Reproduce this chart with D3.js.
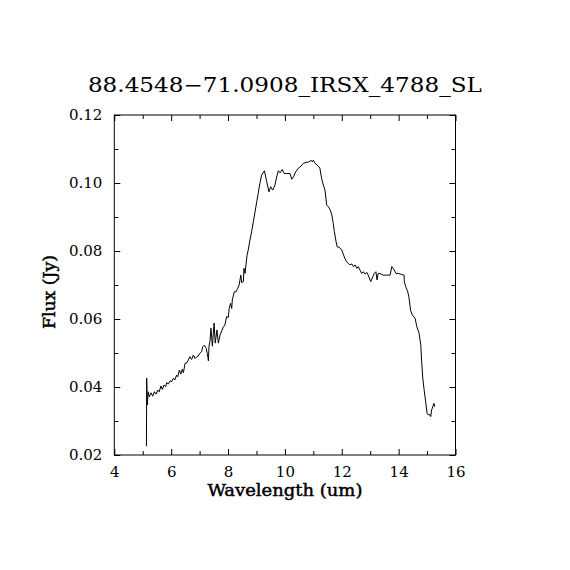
<!DOCTYPE html>
<html>
<head>
<meta charset="utf-8">
<script src="https://cdn.jsdelivr.net/npm/d3@7"></script>
<style>
  body { margin: 0; background: #fff; }
  text { fill: #000; font-family: "DejaVu Serif", "Liberation Serif", serif; }
  .tick-label { font-size: 15px; }
  .label { font-size: 16px; stroke: #000; stroke-width: 0.45px; }
  .title { font-size: 20px; }
</style>
</head>
<body>
<div class="chart"></div>
<script>
const chartTitle = "88.4548\u221271.0908_IRSX_4788_SL";
const xLabel = "Wavelength (um)";
const yLabel = "Flux (Jy)";

const xTicks = [4, 6, 8, 10, 12, 14, 16];
const yTicks = [0.02, 0.04, 0.06, 0.08, 0.10, 0.12];

// spectrum
const wavelength = [
  5.13, 5.14, 5.16, 5.19, 5.23, 5.29, 5.35, 5.41, 5.47, 5.53, 5.58, 5.64, 5.69,
  5.75, 5.81, 5.84, 5.90, 5.96, 6.02, 6.08, 6.13, 6.19, 6.23, 6.29, 6.34, 6.39,
  6.43, 6.49, 6.55, 6.60, 6.66, 6.72, 6.78, 6.84, 6.90, 6.95, 7.01, 7.07, 7.11,
  7.17, 7.23, 7.27, 7.31, 7.33, 7.37, 7.40, 7.45, 7.51, 7.55, 7.61, 7.66, 7.72,
  7.78, 7.83, 7.89, 7.95, 8.01, 8.04, 8.09, 8.13, 8.15, 8.22, 8.28, 8.34, 8.39,
  8.45, 8.48, 8.54, 8.56, 8.60, 8.63, 8.67, 8.71, 8.77, 8.83, 8.89, 8.95, 9.01,
  9.06, 9.12, 9.18, 9.28, 9.36, 9.44, 9.50, 9.57, 9.65, 9.71, 9.77, 9.83, 9.91,
  9.97, 10.06, 10.18, 10.24, 10.30, 10.38, 10.47, 10.57, 10.65, 10.77, 10.85,
  10.92, 10.96, 11.00, 11.06, 11.17, 11.23, 11.29, 11.35, 11.41, 11.47, 11.53,
  11.59, 11.65, 11.70, 11.74, 11.80, 11.84, 11.91, 12.00, 12.05, 12.11, 12.17,
  12.23, 12.29, 12.35, 12.41, 12.47, 12.53, 12.58, 12.64, 12.70, 12.76, 12.82,
  12.88, 12.93, 13.02, 13.09, 13.14, 13.20, 13.24, 13.28, 13.34, 13.46, 13.58,
  13.70, 13.76, 13.81, 13.91, 13.99, 14.11, 14.19, 14.20, 14.25, 14.32, 14.36,
  14.42, 14.48, 14.58, 14.64, 14.72, 14.78, 14.81, 14.85, 14.89, 14.95, 15.00,
  15.04, 15.08, 15.13, 15.16, 15.20, 15.24, 15.27
];
const flux = [
  0.0226, 0.0426, 0.0347, 0.0386, 0.0371, 0.0383, 0.0373, 0.0386, 0.0379, 0.0391, 0.0386, 0.0403, 0.0393,
  0.0406, 0.0401, 0.0413, 0.0409, 0.0418, 0.0416, 0.0426, 0.0421, 0.0435, 0.0430, 0.0450, 0.0438, 0.0452,
  0.0442, 0.0470, 0.0471, 0.0479, 0.0489, 0.0481, 0.0494, 0.0484, 0.0489, 0.0491, 0.0499, 0.0504, 0.0518,
  0.0523, 0.0514, 0.0499, 0.0477, 0.0518, 0.0538, 0.0573, 0.0520, 0.0588, 0.0529, 0.0568, 0.0529, 0.0553,
  0.0565, 0.0576, 0.0582, 0.0607, 0.0605, 0.0631, 0.0646, 0.0631, 0.0656, 0.0680, 0.0680, 0.0690, 0.0700,
  0.0729, 0.0707, 0.0710, 0.0749, 0.0734, 0.0759, 0.0788, 0.0803, 0.0832, 0.0857, 0.0886, 0.0915, 0.0945,
  0.0969, 0.0999, 0.1023, 0.1036, 0.1004, 0.0974, 0.0989, 0.0979, 0.0994, 0.1018, 0.1036, 0.1030, 0.1040,
  0.1028, 0.1028, 0.1028, 0.1011, 0.1018, 0.1033, 0.1043, 0.1050, 0.1058, 0.1061, 0.1062,
  0.1067, 0.1062, 0.1067, 0.1058, 0.1050, 0.1044, 0.1014, 0.0994, 0.0979, 0.0935, 0.0930,
  0.0922, 0.0906, 0.0881, 0.0857, 0.0827, 0.0812, 0.0811, 0.0803, 0.0791, 0.0778, 0.0768,
  0.0764, 0.0759, 0.0762, 0.0754, 0.0759, 0.0749, 0.0754, 0.0744, 0.0734, 0.0739, 0.0732,
  0.0737, 0.0729, 0.0710, 0.0724, 0.0734, 0.0739, 0.0715, 0.0734, 0.0734, 0.0729, 0.0729,
  0.0729, 0.0754, 0.0749, 0.0734, 0.0734, 0.0731, 0.0729, 0.0710, 0.0695, 0.0680, 0.0665,
  0.0626, 0.0612, 0.0602, 0.0577, 0.0558, 0.0523, 0.0474, 0.0426, 0.0396, 0.0357, 0.0323,
  0.0318, 0.0320, 0.0313, 0.0332, 0.0342, 0.0352, 0.0342
];

const width = 570;
const height = 570;
const margin = { top: 115, right: 114.5, bottom: 115, left: 114.3 };
const majorTick = 6;
const minorTick = 4;

const svg = d3
  .select(".chart")
  .append("svg")
  .attr("width", width)
  .attr("height", height);

const xScale = d3.scaleLinear().domain([4, 16]).range([margin.left, width - margin.right]);
const yScale = d3.scaleLinear().domain([0.02, 0.12]).range([height - margin.bottom, margin.top]);

const x0 = xScale.range()[0], x1 = xScale.range()[1];
const y0 = yScale.range()[0], y1 = yScale.range()[1];

// minor ticks at the midpoints
const xMinor = d3.range(xTicks.length - 1).map((i) => (xTicks[i] + xTicks[i + 1]) / 2);
const yMinor = d3.range(yTicks.length - 1).map((i) => (yTicks[i] + yTicks[i + 1]) / 2);

//Axes: ticks point inward on all four sides, labels on bottom/left only
const bottomAxis = d3.axisBottom(xScale).tickValues(xTicks).tickSize(-majorTick).tickPadding(11).tickFormat(d3.format("d"));
const topAxis = d3.axisTop(xScale).tickValues(xTicks).tickSize(-majorTick).tickFormat("");
const leftAxis = d3.axisLeft(yScale).tickValues(yTicks).tickSize(-majorTick).tickPadding(12).tickFormat(d3.format(".2f"));
const rightAxis = d3.axisRight(yScale).tickValues(yTicks).tickSize(-majorTick).tickFormat("");

const addAxis = (axis, tx, ty) => {
  const g = svg.append("g").attr("transform", `translate(${tx}, ${ty})`).call(axis);
  g.select(".domain").remove();
  g.selectAll(".tick line").attr("stroke", "#000");
  g.selectAll(".tick text").attr("class", "tick-label").attr("font-family", null).attr("font-size", null);
  return g;
};
addAxis(bottomAxis, 0, y0);
addAxis(topAxis, 0, y1);
addAxis(leftAxis, x0, 0);
addAxis(rightAxis, x1, 0);

addAxis(d3.axisBottom(xScale).tickValues(xMinor).tickSize(-minorTick).tickFormat(""), 0, y0);
addAxis(d3.axisTop(xScale).tickValues(xMinor).tickSize(-minorTick).tickFormat(""), 0, y1);
addAxis(d3.axisLeft(yScale).tickValues(yMinor).tickSize(-minorTick).tickFormat(""), x0, 0);
addAxis(d3.axisRight(yScale).tickValues(yMinor).tickSize(-minorTick).tickFormat(""), x1, 0);

// frame
svg.append("rect")
  .attr("x", x0)
  .attr("y", y1)
  .attr("width", x1 - x0)
  .attr("height", y0 - y1)
  .attr("fill", "none")
  .attr("stroke", "#000")
  .attr("stroke-width", 1);

// spectrum
const spectrum = wavelength.map((w, i) => ({ w: w, f: flux[i] }));
svg.append("path")
  .datum(spectrum)
  .attr("fill", "none")
  .attr("stroke", "#000")
  .attr("stroke-width", 1)
  .attr("d", d3.line().x((d) => xScale(d.w)).y((d) => yScale(d.f)));

//Title
svg.append("text")
  .attr("class", "title")
  .attr("x", (x0 + x1) / 2)
  .attr("y", 92)
  .attr("text-anchor", "middle")
  .attr("textLength", 394)
  .attr("lengthAdjust", "spacingAndGlyphs")
  .text(chartTitle);

svg.append("text")
  .attr("class", "label")
  .attr("x", (x0 + x1) / 2)
  .attr("y", 496)
  .attr("text-anchor", "middle")
  .attr("textLength", 155)
  .attr("lengthAdjust", "spacingAndGlyphs")
  .text(xLabel);

svg.append("text")
  .attr("class", "label")
  .attr("transform", `translate(55, ${(y0 + y1) / 2 + 7}) rotate(-90)`)
  .attr("text-anchor", "middle")
  .attr("textLength", 74)
  .attr("lengthAdjust", "spacingAndGlyphs")
  .text(yLabel);
</script>
</body>
</html>
